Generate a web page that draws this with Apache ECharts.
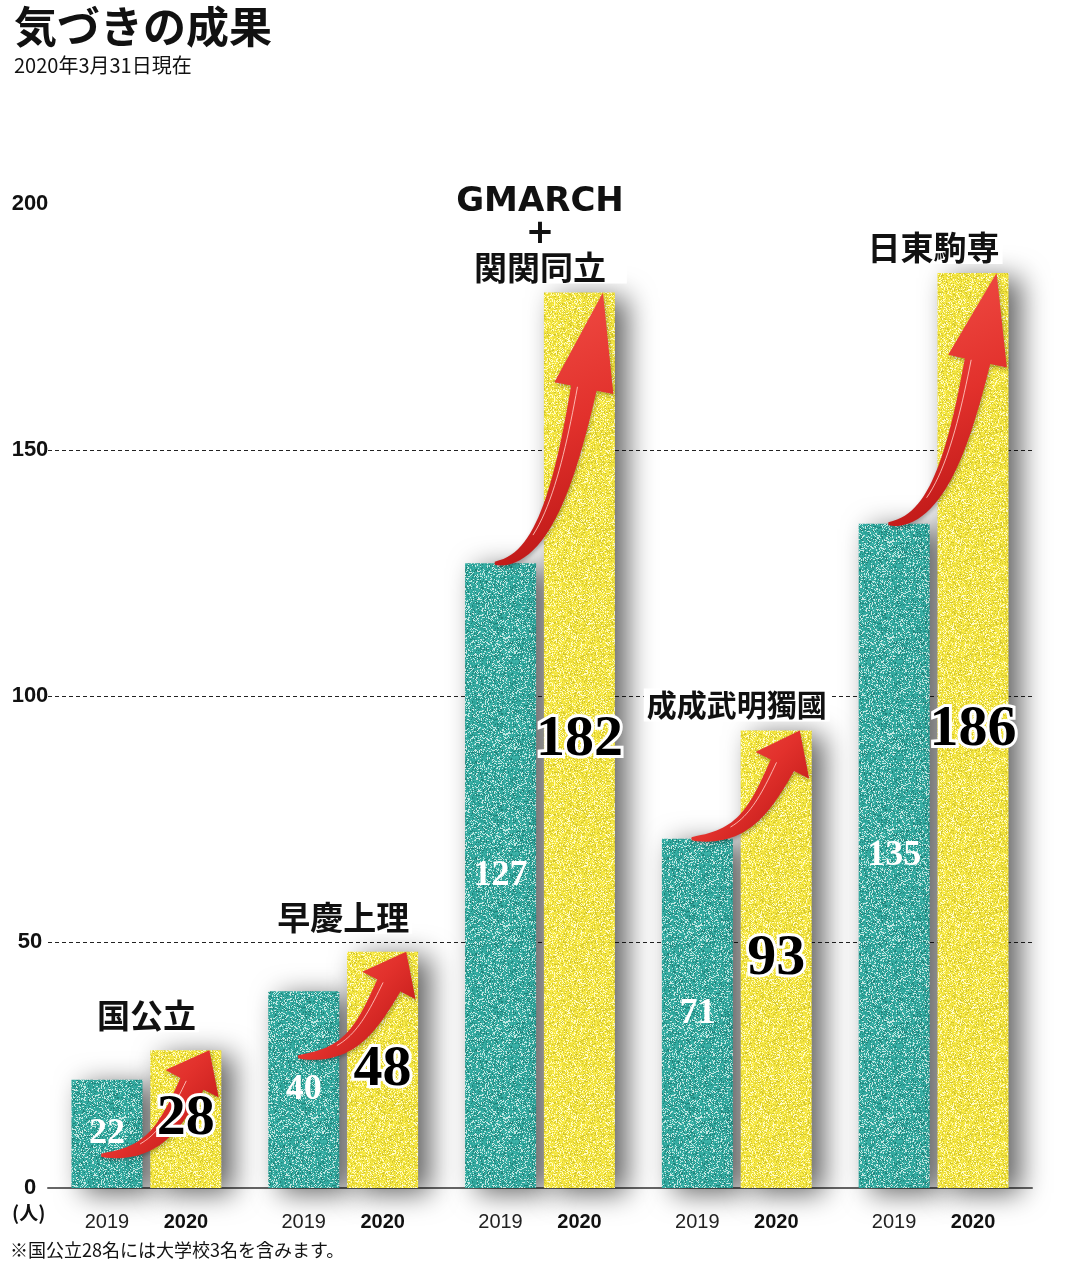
<!DOCTYPE html>
<html><head><meta charset="utf-8">
<script src="https://cdn.jsdelivr.net/npm/echarts@6/dist/echarts.min.js"></script>
<style>html,body{margin:0;padding:0;background:#fff}#c{width:1085px;height:1263px}</style>
</head><body><div id="c"></div>
<script>
// ---- data ----
const groups = ['国公立', '早慶上理', 'GMARCH\n+\n関関同立', '成成武明獨國', '日東駒専'];
const years = ['2019', '2020'];
const values2019 = [22, 40, 127, 71, 135];
const values2020 = [28, 48, 182, 93, 186];
const yMin = 0, yMax = 200, yStep = 50;
const titleText = '気づきの成果';
const subtitleText = '2020年3月31日現在';
const unitText = '(人)';
const noteText = '※国公立28名には大学校3名を含みます。';

// ---- speckled texture (deterministic) ----
function makePattern(base, light, dark, seed) {
  const c = document.createElement('canvas');
  c.width = 96; c.height = 96;
  const ctx = c.getContext('2d');
  const img = ctx.createImageData(96, 96);
  let s = seed;
  const rnd = () => { s = (s * 1664525 + 1013904223) >>> 0; return s / 4294967296; };
  for (let p = 0; p < 96 * 96; p++) {
    const r = rnd();
    let col;
    if (r < 0.2) col = light;
    else if (r < 0.33) col = dark;
    else {
      const j = (rnd() - 0.5) * 24;
      col = [base[0] + j, base[1] + j, base[2] + j];
    }
    img.data[p * 4] = col[0]; img.data[p * 4 + 1] = col[1]; img.data[p * 4 + 2] = col[2]; img.data[p * 4 + 3] = 255;
  }
  ctx.putImageData(img, 0, 0);
  return c;
}
const tealPat = makePattern([52, 170, 160], [196, 232, 226], [32, 128, 120], 12345);
const yellowPat = makePattern([242, 228, 66], [255, 251, 196], [210, 196, 44], 67890);

const chart = echarts.init(document.getElementById('c'), null, { renderer: 'canvas' });

const isLatin = s => /^[\x00-\x7F]+$/.test(s);

function renderArrow(params, api) {
  const i = params.dataIndex;
  const v19 = api.value(1), v20 = api.value(2);
  const p20 = api.coord([api.value(0), v20]);
  const p19 = api.coord([api.value(0), v19]);
  const band = api.size([1, 0])[0];
  const hx = p20[0] + band * 0.32, hy = p20[1];
  const tx = p20[0] - band * 0.23;
  const ty = Math.max(p19[1], hy + 105);
  const dx = hx - tx, dy = ty - hy;
  let ux = 0.5 * dx, uy = -dy; const ul = Math.hypot(ux, uy); ux /= ul; uy /= ul;
  const headLen = 0.36 * dy;
  const bx = hx - ux * headLen, by = hy - uy * headLen;
  const P0 = [tx, ty], P1 = [tx + 0.55 * (bx - tx), ty];
  const k = 0.45 * Math.hypot(bx - tx, by - ty);
  const P2 = [bx - ux * k, by - uy * k], P3 = [bx, by];
  const N = 30, sideA = [], sideB = [], hl = [];
  let nEnd = [0, 0];
  for (let s = 0; s <= N; s++) {
    const t = s / N, m = 1 - t;
    const px = m*m*m*P0[0] + 3*m*m*t*P1[0] + 3*m*t*t*P2[0] + t*t*t*P3[0];
    const py = m*m*m*P0[1] + 3*m*m*t*P1[1] + 3*m*t*t*P2[1] + t*t*t*P3[1];
    const ddx = 3*m*m*(P1[0]-P0[0]) + 6*m*t*(P2[0]-P1[0]) + 3*t*t*(P3[0]-P2[0]);
    const ddy = 3*m*m*(P1[1]-P0[1]) + 6*m*t*(P2[1]-P1[1]) + 3*t*t*(P3[1]-P2[1]);
    const dl = Math.hypot(ddx, ddy) || 1;
    const nx = -ddy / dl, ny = ddx / dl;
    const w = 1.5 + 11.5 * Math.pow(t, 0.7);
    sideA.push([px + nx * w, py + ny * w]);
    sideB.push([px - nx * w, py - ny * w]);
    if (t > 0.3) hl.push([px - nx * w * 0.5, py - ny * w * 0.5]);
    nEnd = [nx, ny];
  }
  const hw = 30;
  const pts = sideA.concat([[bx + nEnd[0] * hw, by + nEnd[1] * hw], [hx, hy], [bx - nEnd[0] * hw, by - nEnd[1] * hw]]).concat(sideB.slice().reverse());
  const parts = groups[i].split('\n');
  const cjkParts = parts.filter(s => !isLatin(s));
  const maxLen = Math.max.apply(null, cjkParts.map(s => s.length).concat([1]));
  const cjkSize = Math.min(33, Math.floor(182 / maxLen));
  const lines = parts.map(s => isLatin(s) ? '{lat|' + s + '}' : '{cjk|' + s + '}').join('\n');
  const gap = v20 < 60 ? 18 : 9;
  return {
    type: 'group',
    children: [
      {
        type: 'polygon',
        shape: { points: pts },
        style: {
          fill: new echarts.graphic.LinearGradient(0, 0, 1, 1, [
            { offset: 0, color: '#f25048' }, { offset: 0.5, color: '#e2312c' }, { offset: 1, color: '#b51212' }
          ]),
          shadowBlur: 4, shadowColor: 'rgba(0,0,0,0.3)', shadowOffsetX: 1, shadowOffsetY: 2
        }
      },
      {
        type: 'polyline',
        shape: { points: hl },
        style: { stroke: 'rgba(255,205,195,0.85)', lineWidth: 1, fill: null }
      },
      {
        type: 'text',
        style: {
          text: lines,
          x: p20[0], y: hy - gap,
          align: 'center', verticalAlign: 'bottom',
          backgroundColor: '#fff', padding: [0, 3],
          rich: {
            lat: { fontFamily: 'DejaVu Sans', fontWeight: 'bold', fontSize: 34, lineHeight: 32, fill: '#111', color: '#111' },
            cjk: { fontFamily: 'Noto Sans CJK JP', fontWeight: 'bold', fontSize: cjkSize, lineHeight: 33, fill: '#111', color: '#111' }
          }
        }
      }
    ]
  };
}

const barW = 71, barGap = '11%';
const barShadow = { shadowBlur: 28, shadowColor: 'rgba(0,0,0,0.62)', shadowOffsetX: 12, shadowOffsetY: 5 };
const option = {
  animation: false,
  backgroundColor: '#fff',
  title: {
    text: titleText, subtext: subtitleText, left: 9, top: 0, itemGap: 7,
    textStyle: { fontFamily: 'Noto Sans CJK JP', fontWeight: 'bold', fontSize: 43, color: '#111' },
    subtextStyle: { fontFamily: 'Noto Sans CJK JP', fontSize: 20, color: '#111' }
  },
  grid: { left: 48, right: 53, top: 204, bottom: 75, containLabel: false },
  xAxis: [
    {
      type: 'category', data: groups,
      axisLine: { lineStyle: { color: '#666', width: 2 } },
      axisTick: { show: false },
      axisLabel: {
        margin: 24, interval: 0,
        formatter: () => '{a|' + years[0] + '}{b|' + years[1] + '}',
        rich: {
          a: { width: 79, align: 'center', fontFamily: 'Liberation Sans', fontSize: 20, color: '#222' },
          b: { width: 79, align: 'center', fontFamily: 'Liberation Sans', fontWeight: 'bold', fontSize: 20, color: '#111' }
        }
      },
      z: 1
    },
    { type: 'category', data: groups, show: false, gridIndex: 0 }
  ],
  yAxis: {
    type: 'value', min: yMin, max: yMax, interval: yStep,
    axisLine: { show: false }, axisTick: { show: false },
    axisLabel: { margin: 18, align: 'center', fontFamily: 'Liberation Sans', fontWeight: 'bold', fontSize: 22, color: '#111' },
    splitLine: { show: true, lineStyle: { type: [4, 3], width: 1, color: ['rgba(0,0,0,0)', '#222', '#222', '#222', 'rgba(0,0,0,0)'] } }
  },
  graphic: [
    { type: 'text', left: 12, top: 1203, style: { text: unitText, fontFamily: 'Noto Sans CJK JP', fontWeight: 'bold', fontSize: 19, fill: '#111' } },
    { type: 'text', left: 10, top: 1241, style: { text: noteText, fontFamily: 'Noto Sans CJK JP', fontSize: 18, fill: '#111' } }
  ],
  series: [
    {
      type: 'bar', name: years[0], xAxisIndex: 0, data: values2019, barWidth: barW, barGap: barGap, z: 2, silent: true,
      itemStyle: Object.assign({ color: { image: tealPat, repeat: 'repeat' } }, barShadow)
    },
    {
      type: 'bar', name: years[1], xAxisIndex: 0, data: values2020, barWidth: barW, barGap: barGap, z: 2, silent: true,
      itemStyle: Object.assign({ color: { image: yellowPat, repeat: 'repeat' } }, barShadow)
    },
    {
      type: 'custom', xAxisIndex: 0, z: 3, silent: true,
      data: groups.map((g, i) => [i, values2019[i], values2020[i]]),
      encode: { x: 0, y: [1, 2] },
      renderItem: renderArrow
    },
    {
      type: 'bar', xAxisIndex: 1, data: values2019, barWidth: barW, barGap: barGap, z: 4, silent: true,
      itemStyle: { color: 'rgba(0,0,0,0)' },
      label: { show: true, position: 'inside', color: '#fff', fontFamily: 'Liberation Serif', fontWeight: 'bold', fontSize: 36, textBorderWidth: 0 }
    },
    {
      type: 'bar', xAxisIndex: 1, data: values2020, barWidth: barW, barGap: barGap, z: 4, silent: true,
      itemStyle: { color: 'rgba(0,0,0,0)' },
      label: { show: true, position: 'inside', color: '#000', fontFamily: 'Liberation Serif', fontWeight: 'bold', fontSize: 58, textBorderColor: '#fff', textBorderWidth: 6 }
    }
  ]
};
chart.setOption(option);
</script>
</body></html>
